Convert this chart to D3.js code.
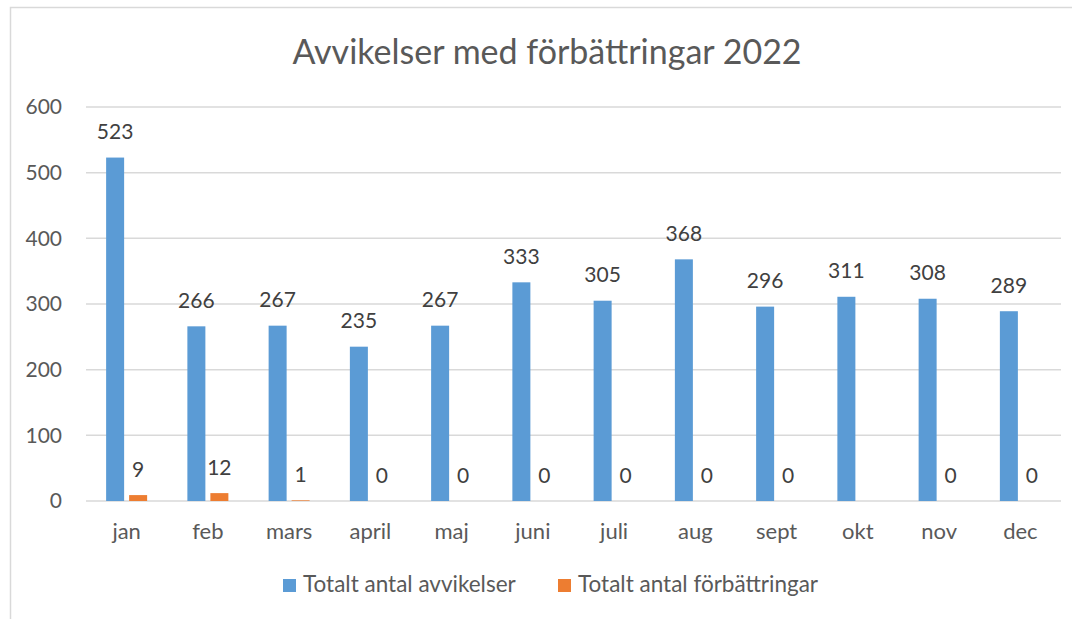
<!DOCTYPE html>
<html>
<head>
<meta charset="utf-8">
<script src="https://cdn.jsdelivr.net/npm/d3@7"></script>
<style>
  body { margin: 0; background: #fff; }
  text { font-family: Lato, "Open Sans", sans-serif; }
</style>
</head>
<body>
<svg id="chart" width="1072" height="619"></svg>
<script>
// data
var months = ["jan","feb","mars","april","maj","juni","juli","aug","sept","okt","nov","dec"];
var avvikelser = [523,266,267,235,267,333,305,368,296,311,308,289];
var forbattringar = [9,12,1,0,0,0,0,0,0,null,0,0];
var yTicks = [0,100,200,300,400,500,600];
var seriesNames = ["Totalt antal avvikelser","Totalt antal förbättringar"];
var seriesColors = ["#5b9bd5","#ed7d31"];

var w = 1072, h = 619;
var plotLeft = 86, plotRight = 1061, plotTop = 107, plotBottom = 501;
var barW = 18, gap = 5;

var SVG = d3.select("#chart");

// chart frame
SVG.append("path")
   .attr("d","M10.5," + h + "V7.5H" + w)
   .attr("fill","none")
   .attr("stroke","#d9d9d9")
   .attr("stroke-width",1.5);

// title
SVG.append("text")
   .attr("x",547).attr("y",64)
   .attr("text-anchor","middle")
   .attr("fill","#595959")
   .style("font-size","34px")
   .text("Avvikelser med förbättringar 2022");

var x = d3.scaleBand().domain(months).range([plotLeft,plotRight]);
var y = d3.scaleLinear().domain([0,600]).range([plotBottom,plotTop]);

// gridlines
SVG.selectAll(".grid")
   .data(yTicks)
   .enter()
   .append("line")
   .attr("class","grid")
   .attr("x1",plotLeft).attr("x2",plotRight)
   .attr("y1",function(d){return y(d);})
   .attr("y2",function(d){return y(d);})
   .attr("stroke","#d9d9d9")
   .attr("stroke-width",1.5);

// y axis labels
var yAxis = SVG.append("g")
   .attr("transform","translate(62,0)")
   .call(d3.axisLeft(y).tickValues(yTicks).tickSize(0).tickPadding(0));
yAxis.select(".domain").remove();
yAxis.selectAll("text")
   .attr("fill","#595959")
   .style("font-size","21px")
   .style("font-family","Lato, sans-serif");

// x axis labels
var xAxis = SVG.append("g")
   .attr("transform","translate(0," + plotBottom + ")")
   .call(d3.axisBottom(x).tickSize(0).tickPadding(0));
xAxis.select(".domain").remove();
xAxis.selectAll("text")
   .attr("y",38).attr("dy",null)
   .attr("fill","#595959")
   .style("font-size","22px")
   .style("font-family","Lato, sans-serif");

function barX(m,k){
  var c = x(m) + x.bandwidth()/2;
  return k==0 ? c - gap/2 - barW : c + gap/2;
};

[avvikelser, forbattringar].forEach(function(vals,k){
  var data = months.map(function(m,i){return {m:m, v:vals[i]};})
                   .filter(function(d){return d.v!=null;});

  SVG.selectAll(".bar"+k)
     .data(data)
     .enter()
     .append("rect")
     .attr("class","bar"+k)
     .attr("x",function(d){return barX(d.m,k);})
     .attr("width",barW)
     .attr("y",function(d){return y(d.v);})
     .attr("height",function(d){return plotBottom - y(d.v);})
     .attr("fill",seriesColors[k]);

  SVG.selectAll(".label"+k)
     .data(data)
     .enter()
     .append("text")
     .attr("class","label"+k)
     .attr("x",function(d){return barX(d.m,k) + barW/2;})
     .attr("y",function(d){return y(d.v) - 18.5;})
     .attr("text-anchor","middle")
     .attr("fill","#404040")
     .style("font-size","21px")
     .text(function(d){return d.v;});
});

// legend
var legendX = [283,558];
var legend = SVG.selectAll(".legend")
   .data(seriesNames)
   .enter()
   .append("g")
   .attr("class","legend")
   .attr("transform",function(d,i){return "translate(" + legendX[i] + ",579)";});
legend.append("rect")
   .attr("width",13).attr("height",13)
   .attr("fill",function(d,i){return seriesColors[i];});
legend.append("text")
   .attr("x",20).attr("y",13)
   .attr("fill","#595959")
   .style("font-size","22.5px")
   .text(function(d){return d;});
</script>
</body>
</html>
